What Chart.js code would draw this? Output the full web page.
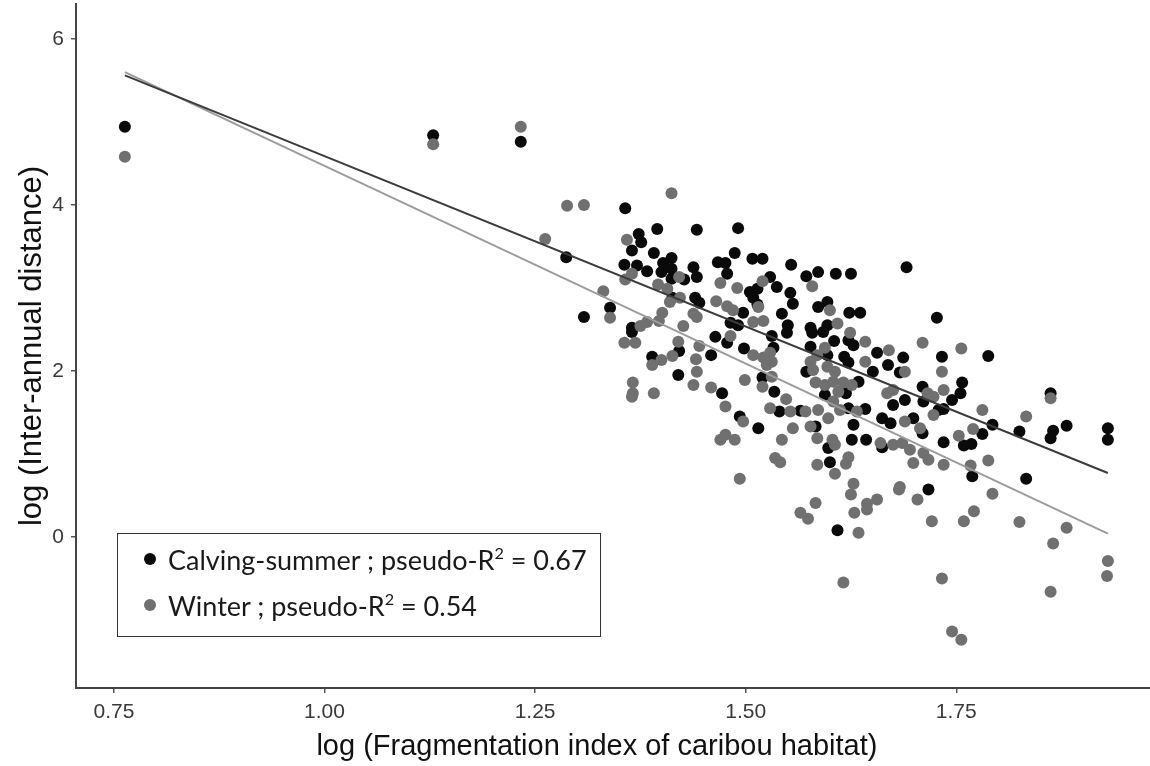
<!DOCTYPE html>
<html>
<head>
<meta charset="utf-8">
<script src="https://cdn.jsdelivr.net/npm/chart.js@4.4.1/dist/chart.umd.min.js"></script>
<style>
html, body { margin: 0; padding: 0; background: #fff; }
#wrap { position: relative; width: 1150px; height: 766px; }
#legend { position: absolute; left: 117px; top: 533px; width: 482px; height: 102px;
  border: 1.5px solid #333; font-family: Lato, sans-serif; font-size: 27px; color: #1a1a1a; }
.row { position: absolute; left: 0; height: 30px; display: flex; align-items: center; white-space: nowrap; }
.dot { width: 12px; height: 12px; border-radius: 50%; margin: 0 12px 0 26px; }
sup { font-size: 0.6em; line-height: 0; vertical-align: 0.65em; }
</style>
</head>
<body>
<div id="wrap">
  <canvas id="chart"></canvas>
  <div id="legend">
    <div class="row" style="top:10px"><span class="dot" style="background:#0a0a0a"></span><span>Calving-summer ; pseudo-R<sup>2</sup> = 0.67</span></div>
    <div class="row" style="top:56px"><span class="dot" style="background:#707070"></span><span>Winter ; pseudo-R<sup>2</sup> = 0.54</span></div>
  </div>
</div>
<script>
// values
const calvingX = [0.763, 1.129, 1.233, 1.357, 1.395, 1.442, 1.373, 1.376, 1.365, 1.391, 1.412, 1.402, 1.287, 1.356, 1.371,
  1.383, 1.400, 1.412, 1.438, 1.442, 1.412, 1.427, 1.413, 1.440, 1.445, 1.339, 1.308, 1.365, 1.467, 1.491,
  1.487, 1.508, 1.520, 1.476, 1.554, 1.478, 1.529, 1.537, 1.572, 1.586, 1.607, 1.625, 1.691, 1.553, 1.505,
  1.514, 1.509, 1.514, 1.556, 1.586, 1.597, 1.623, 1.636, 1.543, 1.497, 1.550, 1.577, 1.597, 1.727, 1.482,
  1.491, 1.365, 1.421, 1.389, 1.459, 1.464, 1.420, 1.472, 1.531, 1.549, 1.579, 1.592, 1.622, 1.628, 1.605,
  1.478, 1.498, 1.533, 1.577, 1.597, 1.617, 1.622, 1.656, 1.669, 1.687, 1.683, 1.651, 1.572, 1.520, 1.634,
  1.619, 1.594, 1.534, 1.710, 1.711, 1.675, 1.689, 1.622, 1.642, 1.540, 1.565, 1.493, 1.662, 1.672, 1.699,
  1.710, 1.729, 1.515, 1.583, 1.628, 1.626, 1.643, 1.662, 1.598, 1.600, 1.717, 1.788, 1.733, 1.757, 1.755,
  1.745, 1.735, 1.862, 1.793, 1.825, 1.881, 1.865, 1.862, 1.930, 1.930, 1.781, 1.759, 1.768, 1.735, 1.769,
  1.833, 1.609];
const calvingY = [4.94, 4.84, 4.76, 3.96, 3.71, 3.70, 3.65, 3.55, 3.45, 3.42, 3.36, 3.30, 3.37, 3.28, 3.27,
  3.20, 3.19, 3.23, 3.25, 3.13, 3.11, 3.10, 2.88, 2.88, 2.82, 2.76, 2.65, 2.52, 3.31, 3.72,
  3.42, 3.35, 3.35, 3.30, 3.28, 3.17, 3.13, 3.01, 3.14, 3.19, 3.17, 3.17, 3.25, 2.94, 2.95,
  2.99, 2.88, 2.80, 2.81, 2.77, 2.83, 2.70, 2.70, 2.69, 2.70, 2.55, 2.52, 2.55, 2.64, 2.58,
  2.55, 2.47, 2.24, 2.17, 2.19, 2.41, 1.95, 1.73, 2.42, 2.46, 2.46, 2.47, 2.37, 2.31, 2.36,
  2.34, 2.27, 2.28, 2.29, 2.19, 2.17, 2.10, 2.22, 2.07, 2.16, 1.98, 1.99, 1.99, 1.92, 1.87,
  1.73, 1.71, 1.75, 1.81, 1.63, 1.59, 1.65, 1.55, 1.54, 1.51, 1.52, 1.45, 1.43, 1.37, 1.43,
  1.25, 1.53, 1.31, 1.33, 1.35, 1.17, 1.17, 1.08, 1.07, 0.90, 0.57, 2.18, 2.17, 1.86, 1.73,
  1.65, 1.54, 1.73, 1.35, 1.27, 1.34, 1.28, 1.19, 1.31, 1.17, 1.24, 1.10, 1.12, 1.14, 0.73,
  0.70, 0.08];

const winterX = [0.763, 1.129, 1.233, 1.412, 1.288, 1.308, 1.262, 1.359, 1.365, 1.357, 1.421, 1.396, 1.407, 1.331, 1.422,
  1.410, 1.465, 1.339, 1.401, 1.397, 1.383, 1.438, 1.442, 1.426, 1.375, 1.470, 1.520, 1.490, 1.579, 1.515,
  1.600, 1.478, 1.485, 1.509, 1.521, 1.609, 1.356, 1.369, 1.420, 1.413, 1.445, 1.400, 1.389, 1.441, 1.442,
  1.366, 1.366, 1.365, 1.391, 1.438, 1.459, 1.470, 1.624, 1.642, 1.710, 1.482, 1.509, 1.521, 1.529, 1.531,
  1.525, 1.594, 1.585, 1.577, 1.580, 1.597, 1.606, 1.642, 1.670, 1.689, 1.499, 1.531, 1.520, 1.583, 1.594,
  1.604, 1.616, 1.626, 1.610, 1.548, 1.476, 1.716, 1.723, 1.668, 1.675, 1.604, 1.612, 1.632, 1.529, 1.553,
  1.571, 1.586, 1.598, 1.497, 1.689, 1.707, 1.723, 1.556, 1.577, 1.585, 1.476, 1.487, 1.543, 1.603, 1.606,
  1.660, 1.675, 1.686, 1.695, 1.535, 1.541, 1.622, 1.619, 1.585, 1.711, 1.717, 1.699, 1.606, 1.493, 1.628,
  1.683, 1.756, 1.733, 1.735, 1.862, 1.781, 1.833, 1.770, 1.753, 1.788, 1.767, 1.735, 1.583, 1.565, 1.574,
  1.625, 1.644, 1.644, 1.656, 1.629, 1.634, 1.682, 1.704, 1.721, 1.616, 1.733, 1.793, 1.771, 1.759, 1.825,
  1.881, 1.865, 1.930, 1.929, 1.862, 1.745, 1.756];
const winterY = [4.58, 4.73, 4.94, 4.14, 3.99, 4.00, 3.59, 3.58, 3.17, 3.10, 3.13, 3.04, 2.99, 2.96, 2.88,
  2.83, 2.84, 2.64, 2.70, 2.60, 2.59, 2.69, 2.65, 2.54, 2.54, 3.06, 3.08, 3.00, 3.02, 2.77,
  2.73, 2.78, 2.73, 2.59, 2.60, 2.57, 2.34, 2.34, 2.35, 2.18, 2.30, 2.13, 2.07, 2.14, 1.99,
  1.86, 1.73, 1.69, 1.73, 1.83, 1.80, 1.17, 2.46, 2.35, 2.34, 2.42, 2.19, 2.16, 2.22, 2.11,
  2.07, 2.28, 2.19, 2.11, 2.01, 2.05, 1.99, 2.11, 2.25, 1.99, 1.89, 1.93, 1.81, 1.86, 1.83,
  1.87, 1.86, 1.83, 1.75, 1.66, 1.57, 1.73, 1.69, 1.73, 1.77, 1.63, 1.53, 1.51, 1.55, 1.51,
  1.51, 1.53, 1.43, 1.39, 1.39, 1.31, 1.47, 1.31, 1.33, 1.19, 1.23, 1.17, 1.17, 1.17, 1.11,
  1.13, 1.11, 1.13, 1.05, 0.95, 0.90, 0.96, 0.88, 0.87, 1.01, 0.93, 0.89, 0.76, 0.70, 0.64,
  0.60, 2.27, 1.99, 1.77, 1.67, 1.53, 1.45, 1.30, 1.22, 0.92, 0.86, 0.87, 0.41, 0.29, 0.22,
  0.51, 0.40, 0.33, 0.45, 0.29, 0.05, 0.57, 0.45, 0.19, -0.55, -0.50, 0.52, 0.31, 0.19, 0.18,
  0.11, -0.08, -0.29, -0.47, -0.66, -1.14, -1.24];

// fitted lines (end points)
const fitX = [0.763, 1.930];
const calvingFit = [5.56, 0.77];
const winterFit = [5.60, 0.04];

const xTicks = [0.75, 1.00, 1.25, 1.50, 1.75];
const xTickLabels = ['0.75', '1.00', '1.25', '1.50', '1.75'];
const yTicks = [0, 2, 4, 6];
const yTickLabels = ['0', '2', '4', '6'];

const toPts = (xs, ys) => xs.map((x, i) => ({ x: x, y: ys[i] }));

new Chart(document.getElementById('chart'), {
  type: 'scatter',
  data: {
    datasets: [
      { label: 'Calving-summer fit', type: 'line', data: toPts(fitX, calvingFit), borderColor: '#3c3c3c',
        borderWidth: 2, pointRadius: 0, fill: false, order: 0 },
      { label: 'Winter fit', type: 'line', data: toPts(fitX, winterFit), borderColor: '#9c9c9c',
        borderWidth: 2, pointRadius: 0, fill: false, order: 1 },
      { label: 'Winter', data: toPts(winterX, winterY), backgroundColor: '#707070', borderWidth: 0,
        pointRadius: 6, order: 2 },
      { label: 'Calving-summer', data: toPts(calvingX, calvingY), backgroundColor: '#0a0a0a', borderWidth: 0,
        pointRadius: 6, order: 3 }
    ]
  },
  options: {
    responsive: true,
    maintainAspectRatio: false,
    animation: false,
    layout: { autoPadding: false, padding: { top: 4, right: 0, left: 0, bottom: 0 } },
    plugins: { legend: { display: false }, tooltip: { enabled: false } },
    scales: {
      x: {
        type: 'linear', min: 0.705, max: 1.980,
        afterBuildTicks: ax => { ax.ticks = xTicks.map(v => ({ value: v })); },
        afterFit: ax => { ax.height = 78; ax.paddingLeft = 0; ax.paddingRight = 0; },
        grid: { drawOnChartArea: false, drawTicks: true, tickLength: 5, color: '#555', lineWidth: 1.5 },
        border: { display: true, color: '#444', width: 2 },
        ticks: { callback: (v, i) => xTickLabels[i], color: '#3a3a3a', padding: 7,
          font: { family: 'Liberation Sans', size: 21 }, maxRotation: 0 },
        title: { display: true, text: 'log (Fragmentation index of caribou habitat)    ', color: '#111',
          font: { family: 'Liberation Sans', size: 29 }, padding: { top: 0, bottom: 2 } }
      },
      y: {
        type: 'linear', min: -1.82, max: 6.42,
        afterBuildTicks: ax => { ax.ticks = yTicks.map(v => ({ value: v })); },
        afterFit: ax => { ax.width = 76; ax.paddingTop = 0; ax.paddingBottom = 0; },
        grid: { drawOnChartArea: false, drawTicks: true, tickLength: 5, color: '#555', lineWidth: 1.5 },
        border: { display: true, color: '#444', width: 2 },
        ticks: { callback: (v, i) => yTickLabels[i], color: '#3a3a3a', padding: 7,
          font: { family: 'Liberation Sans', size: 21 } },
        title: { display: true, text: 'log (Inter-annual distance)', color: '#111',
          font: { family: 'Liberation Sans', size: 31 }, padding: { top: 14, bottom: 0 } }
      }
    }
  }
});
</script>
</body>
</html>
